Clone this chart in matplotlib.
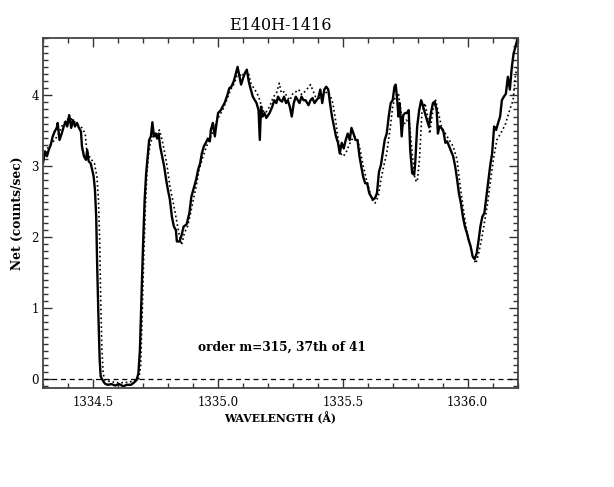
import matplotlib
matplotlib.use('Agg')
import matplotlib.pyplot as plt
from matplotlib.ticker import MultipleLocator

# observed spectrum (solid) -- wavelength in Angstrom, net counts/sec
wave_obs = [1334.300, 1334.308, 1334.316, 1334.323, 1334.331, 1334.339, 1334.347, 1334.355,
            1334.359, 1334.366, 1334.375, 1334.383, 1334.391, 1334.397, 1334.405, 1334.413,
            1334.420, 1334.428, 1334.436, 1334.444, 1334.452, 1334.456, 1334.464, 1334.472,
            1334.477, 1334.483, 1334.491, 1334.499, 1334.503, 1334.508, 1334.513, 1334.517,
            1334.522, 1334.527, 1334.531, 1334.538, 1334.547, 1334.558, 1334.574, 1334.589,
            1334.605, 1334.621, 1334.636, 1334.652, 1334.664, 1334.675, 1334.682, 1334.688,
            1334.694, 1334.700, 1334.707, 1334.713, 1334.719, 1334.725, 1334.732, 1334.738,
            1334.744, 1334.750, 1334.757, 1334.763, 1334.769, 1334.777, 1334.785, 1334.793,
            1334.800, 1334.808, 1334.816, 1334.824, 1334.832, 1334.836, 1334.847, 1334.855,
            1334.863, 1334.875, 1334.886, 1334.894, 1334.905, 1334.913, 1334.921, 1334.929,
            1334.936, 1334.944, 1334.952, 1334.960, 1334.968, 1334.972, 1334.980, 1334.988,
            1334.993, 1335.001, 1335.012, 1335.019, 1335.027, 1335.038, 1335.046, 1335.054,
            1335.063, 1335.071, 1335.079, 1335.085, 1335.093, 1335.101, 1335.108, 1335.116,
            1335.124, 1335.132, 1335.140, 1335.148, 1335.155, 1335.163, 1335.168, 1335.173,
            1335.179, 1335.187, 1335.194, 1335.207, 1335.218, 1335.226, 1335.234, 1335.241,
            1335.249, 1335.257, 1335.265, 1335.273, 1335.280, 1335.288, 1335.296, 1335.304,
            1335.312, 1335.320, 1335.327, 1335.335, 1335.343, 1335.351, 1335.363, 1335.371,
            1335.379, 1335.387, 1335.395, 1335.402, 1335.410, 1335.418, 1335.426, 1335.434,
            1335.442, 1335.449, 1335.457, 1335.465, 1335.473, 1335.481, 1335.488, 1335.496,
            1335.504, 1335.512, 1335.520, 1335.528, 1335.535, 1335.543, 1335.551, 1335.559,
            1335.567, 1335.574, 1335.582, 1335.590, 1335.598, 1335.606, 1335.614, 1335.621,
            1335.629, 1335.637, 1335.645, 1335.653, 1335.660, 1335.668, 1335.676, 1335.684,
            1335.692, 1335.700, 1335.707, 1335.712, 1335.717, 1335.723, 1335.728, 1335.736,
            1335.742, 1335.750, 1335.757, 1335.764, 1335.770, 1335.778, 1335.786, 1335.790,
            1335.798, 1335.806, 1335.814, 1335.822, 1335.829, 1335.837, 1335.845, 1335.853,
            1335.861, 1335.868, 1335.876, 1335.881, 1335.887, 1335.895, 1335.903, 1335.911,
            1335.918, 1335.926, 1335.934, 1335.942, 1335.950, 1335.958, 1335.965, 1335.973,
            1335.981, 1335.989, 1335.997, 1336.004, 1336.012, 1336.020, 1336.028, 1336.036,
            1336.044, 1336.051, 1336.059, 1336.067, 1336.075, 1336.083, 1336.090, 1336.098,
            1336.106, 1336.114, 1336.122, 1336.130, 1336.137, 1336.145, 1336.153, 1336.161,
            1336.169, 1336.177, 1336.184, 1336.192, 1336.200]
net_obs = [3.04, 3.21, 3.14, 3.23, 3.30, 3.42, 3.49, 3.54,
           3.61, 3.37, 3.46, 3.56, 3.63, 3.56, 3.72, 3.54,
           3.65, 3.56, 3.61, 3.54, 3.49, 3.28, 3.14, 3.09,
           3.23, 3.07, 3.04, 2.92, 2.85, 2.67, 2.29, 1.59,
           0.88, 0.27, 0.04, -0.01, -0.06, -0.08, -0.07, -0.09,
           -0.07, -0.10, -0.08, -0.08, -0.05, -0.01, 0.08, 0.41,
           1.12, 1.82, 2.53, 2.90, 3.14, 3.37, 3.42, 3.62,
           3.42, 3.46, 3.39, 3.46, 3.28, 3.14, 3.00, 2.81,
           2.67, 2.53, 2.29, 2.15, 2.10, 1.94, 1.94, 2.03,
           2.15, 2.18, 2.34, 2.57, 2.71, 2.81, 2.95, 3.04,
           3.18, 3.28, 3.33, 3.39, 3.35, 3.51, 3.61, 3.42,
           3.56, 3.75, 3.79, 3.84, 3.89, 4.00, 4.10, 4.12,
           4.19, 4.29, 4.40, 4.29, 4.15, 4.24, 4.31, 4.36,
           4.19, 4.08, 3.98, 3.93, 3.89, 3.79, 3.37, 3.84,
           3.70, 3.75, 3.68, 3.75, 3.84, 3.93, 3.89, 3.98,
           3.93, 3.91, 3.98, 3.89, 3.93, 3.84, 3.70, 3.89,
           3.98, 3.93, 3.89, 3.98, 3.93, 3.93, 3.86, 3.93,
           3.96, 3.89, 3.93, 3.96, 4.08, 3.89, 4.08, 4.12,
           4.08, 3.89, 3.70, 3.56, 3.42, 3.33, 3.18, 3.33,
           3.25, 3.37, 3.46, 3.37, 3.54, 3.46, 3.37, 3.37,
           3.14, 3.00, 2.85, 2.76, 2.76, 2.62, 2.57, 2.53,
           2.55, 2.62, 2.92, 3.02, 3.18, 3.37, 3.46, 3.70,
           3.89, 3.93, 4.12, 4.15, 3.98, 3.70, 3.89, 3.42,
           3.72, 3.75, 3.75, 3.79, 3.23, 2.90, 2.88, 3.04,
           3.56, 3.79, 3.93, 3.84, 3.75, 3.65, 3.56, 3.75,
           3.89, 3.91, 3.79, 3.46, 3.56, 3.54, 3.49, 3.33,
           3.35, 3.28, 3.21, 3.14, 3.00, 2.81, 2.62, 2.48,
           2.29, 2.15, 2.06, 1.96, 1.87, 1.73, 1.69, 1.77,
           1.96, 2.15, 2.29, 2.34, 2.57, 2.81, 3.00, 3.18,
           3.56, 3.51, 3.61, 3.70, 3.93, 3.98, 4.02, 4.26,
           4.08, 4.40, 4.59, 4.69, 4.80]

# comparison spectrum (dotted)
wave_ref = [1334.300, 1334.323, 1334.347, 1334.363, 1334.378, 1334.394, 1334.409, 1334.425,
            1334.441, 1334.456, 1334.469, 1334.475, 1334.485, 1334.495, 1334.506, 1334.516,
            1334.522, 1334.527, 1334.531, 1334.536, 1334.541, 1334.547, 1334.566, 1334.597,
            1334.628, 1334.660, 1334.683, 1334.691, 1334.697, 1334.703, 1334.710, 1334.716,
            1334.722, 1334.730, 1334.741, 1334.753, 1334.766, 1334.777, 1334.785, 1334.797,
            1334.808, 1334.819, 1334.832, 1334.844, 1334.855, 1334.866, 1334.879, 1334.891,
            1334.902, 1334.913, 1334.925, 1334.941, 1334.957, 1334.972, 1334.988, 1335.004,
            1335.019, 1335.035, 1335.051, 1335.066, 1335.082, 1335.094, 1335.110, 1335.123,
            1335.132, 1335.144, 1335.157, 1335.168, 1335.179, 1335.191, 1335.207, 1335.223,
            1335.235, 1335.246, 1335.254, 1335.266, 1335.277, 1335.288, 1335.301, 1335.313,
            1335.324, 1335.335, 1335.348, 1335.360, 1335.371, 1335.379, 1335.391, 1335.407,
            1335.423, 1335.438, 1335.449, 1335.460, 1335.473, 1335.482, 1335.492, 1335.501,
            1335.512, 1335.523, 1335.535, 1335.548, 1335.559, 1335.570, 1335.582, 1335.595,
            1335.606, 1335.617, 1335.629, 1335.642, 1335.653, 1335.664, 1335.676, 1335.689,
            1335.700, 1335.710, 1335.723, 1335.732, 1335.742, 1335.754, 1335.767, 1335.778,
            1335.789, 1335.798, 1335.807, 1335.817, 1335.829, 1335.840, 1335.848, 1335.861,
            1335.872, 1335.883, 1335.895, 1335.911, 1335.926, 1335.942, 1335.958, 1335.970,
            1335.983, 1335.995, 1336.008, 1336.020, 1336.033, 1336.044, 1336.055, 1336.067,
            1336.080, 1336.092, 1336.105, 1336.117, 1336.130, 1336.150, 1336.169, 1336.182,
            1336.192, 1336.200]
net_ref = [3.14, 3.28, 3.37, 3.46, 3.58, 3.65, 3.68, 3.63,
           3.58, 3.54, 3.46, 3.23, 3.14, 3.09, 3.04, 2.85,
           2.53, 1.96, 1.12, 0.41, 0.08, -0.01, -0.03, -0.05,
           -0.05, -0.03, 0.00, 0.18, 0.88, 1.68, 2.43, 2.90,
           3.14, 3.33, 3.42, 3.46, 3.51, 3.37, 3.23, 3.00,
           2.72, 2.53, 2.29, 2.06, 1.89, 2.06, 2.15, 2.34,
           2.53, 2.71, 2.95, 3.14, 3.30, 3.42, 3.56, 3.70,
           3.79, 3.93, 4.08, 4.17, 4.33, 4.26, 4.33, 4.31,
           4.17, 4.10, 4.03, 3.93, 3.79, 3.75, 3.84, 3.98,
           4.03, 4.17, 4.03, 4.05, 3.98, 3.93, 4.03, 4.05,
           4.08, 4.01, 4.05, 4.10, 4.15, 4.08, 3.98, 3.96,
           4.01, 4.05, 4.01, 3.89, 3.61, 3.37, 3.18, 3.14,
           3.18, 3.28, 3.37, 3.42, 3.37, 3.23, 3.00, 2.81,
           2.67, 2.53, 2.48, 2.57, 2.81, 3.00, 3.18, 3.51,
           3.84, 3.98, 4.03, 3.79, 3.56, 3.65, 3.61, 3.18,
           2.81, 2.78, 3.09, 3.75, 3.89, 3.70, 3.46, 3.79,
           3.93, 3.75, 3.56, 3.46, 3.37, 3.28, 3.09, 2.72,
           2.39, 2.11, 1.92, 1.73, 1.63, 1.77, 1.96, 2.20,
           2.48, 2.81, 3.14, 3.37, 3.45, 3.58, 3.80, 3.93,
           4.30, 4.40]

title = 'E140H-1416'
note = 'order m=315, 37th of 41'

serif = 'DejaVu Serif'

fig = plt.figure(figsize=(6.14, 4.87), dpi=100)
ax = fig.add_axes([0.070, 0.204, 0.773, 0.717])

ax.plot(wave_obs, net_obs, '-', color='black', lw=1.7)
ax.plot(wave_ref, net_ref, ':', color='black', lw=1.2)
ax.axhline(0, ls=(0, (4, 3)), color='black', lw=0.9)

ax.set_xlim(1334.3, 1336.2)
ax.set_ylim(-0.12, 4.8)
ax.xaxis.set_major_locator(MultipleLocator(0.5))
ax.xaxis.set_minor_locator(MultipleLocator(0.1))
ax.yaxis.set_major_locator(MultipleLocator(1))
ax.yaxis.set_minor_locator(MultipleLocator(0.1))
ax.xaxis.set_major_formatter(plt.FormatStrFormatter('%.1f'))
ax.yaxis.set_major_formatter(plt.FormatStrFormatter('%d'))

ax.tick_params(which='both', direction='in', top=True, right=True, width=1.0, color='#333333')
ax.tick_params(which='major', length=6.5)
ax.tick_params(which='minor', length=3.4)
ax.tick_params(axis='x', pad=6, labelsize=8.5)
ax.tick_params(axis='y', pad=3, labelsize=8.5)
for lab in ax.get_xticklabels() + ax.get_yticklabels():
    lab.set_family(serif)

plt.setp(ax.spines.values(), color='#444444', lw=1.3)

fig.text(0.456, 0.947, title, ha='center', va='center', fontsize=11.5, family=serif)
ax.set_xlabel('WAVELENGTH (Å)', fontsize=7.8, family=serif, fontweight='bold', labelpad=2)
fig.text(0.029, 0.562, 'Net (counts/sec)', rotation=90, ha='center', va='center',
         fontsize=8.8, family=serif, fontweight='bold')
ax.text(1334.92, 0.455, note, ha='left', va='center', fontsize=8.7, family=serif,
        fontweight='bold')

plt.savefig('out.png', dpi=100)
